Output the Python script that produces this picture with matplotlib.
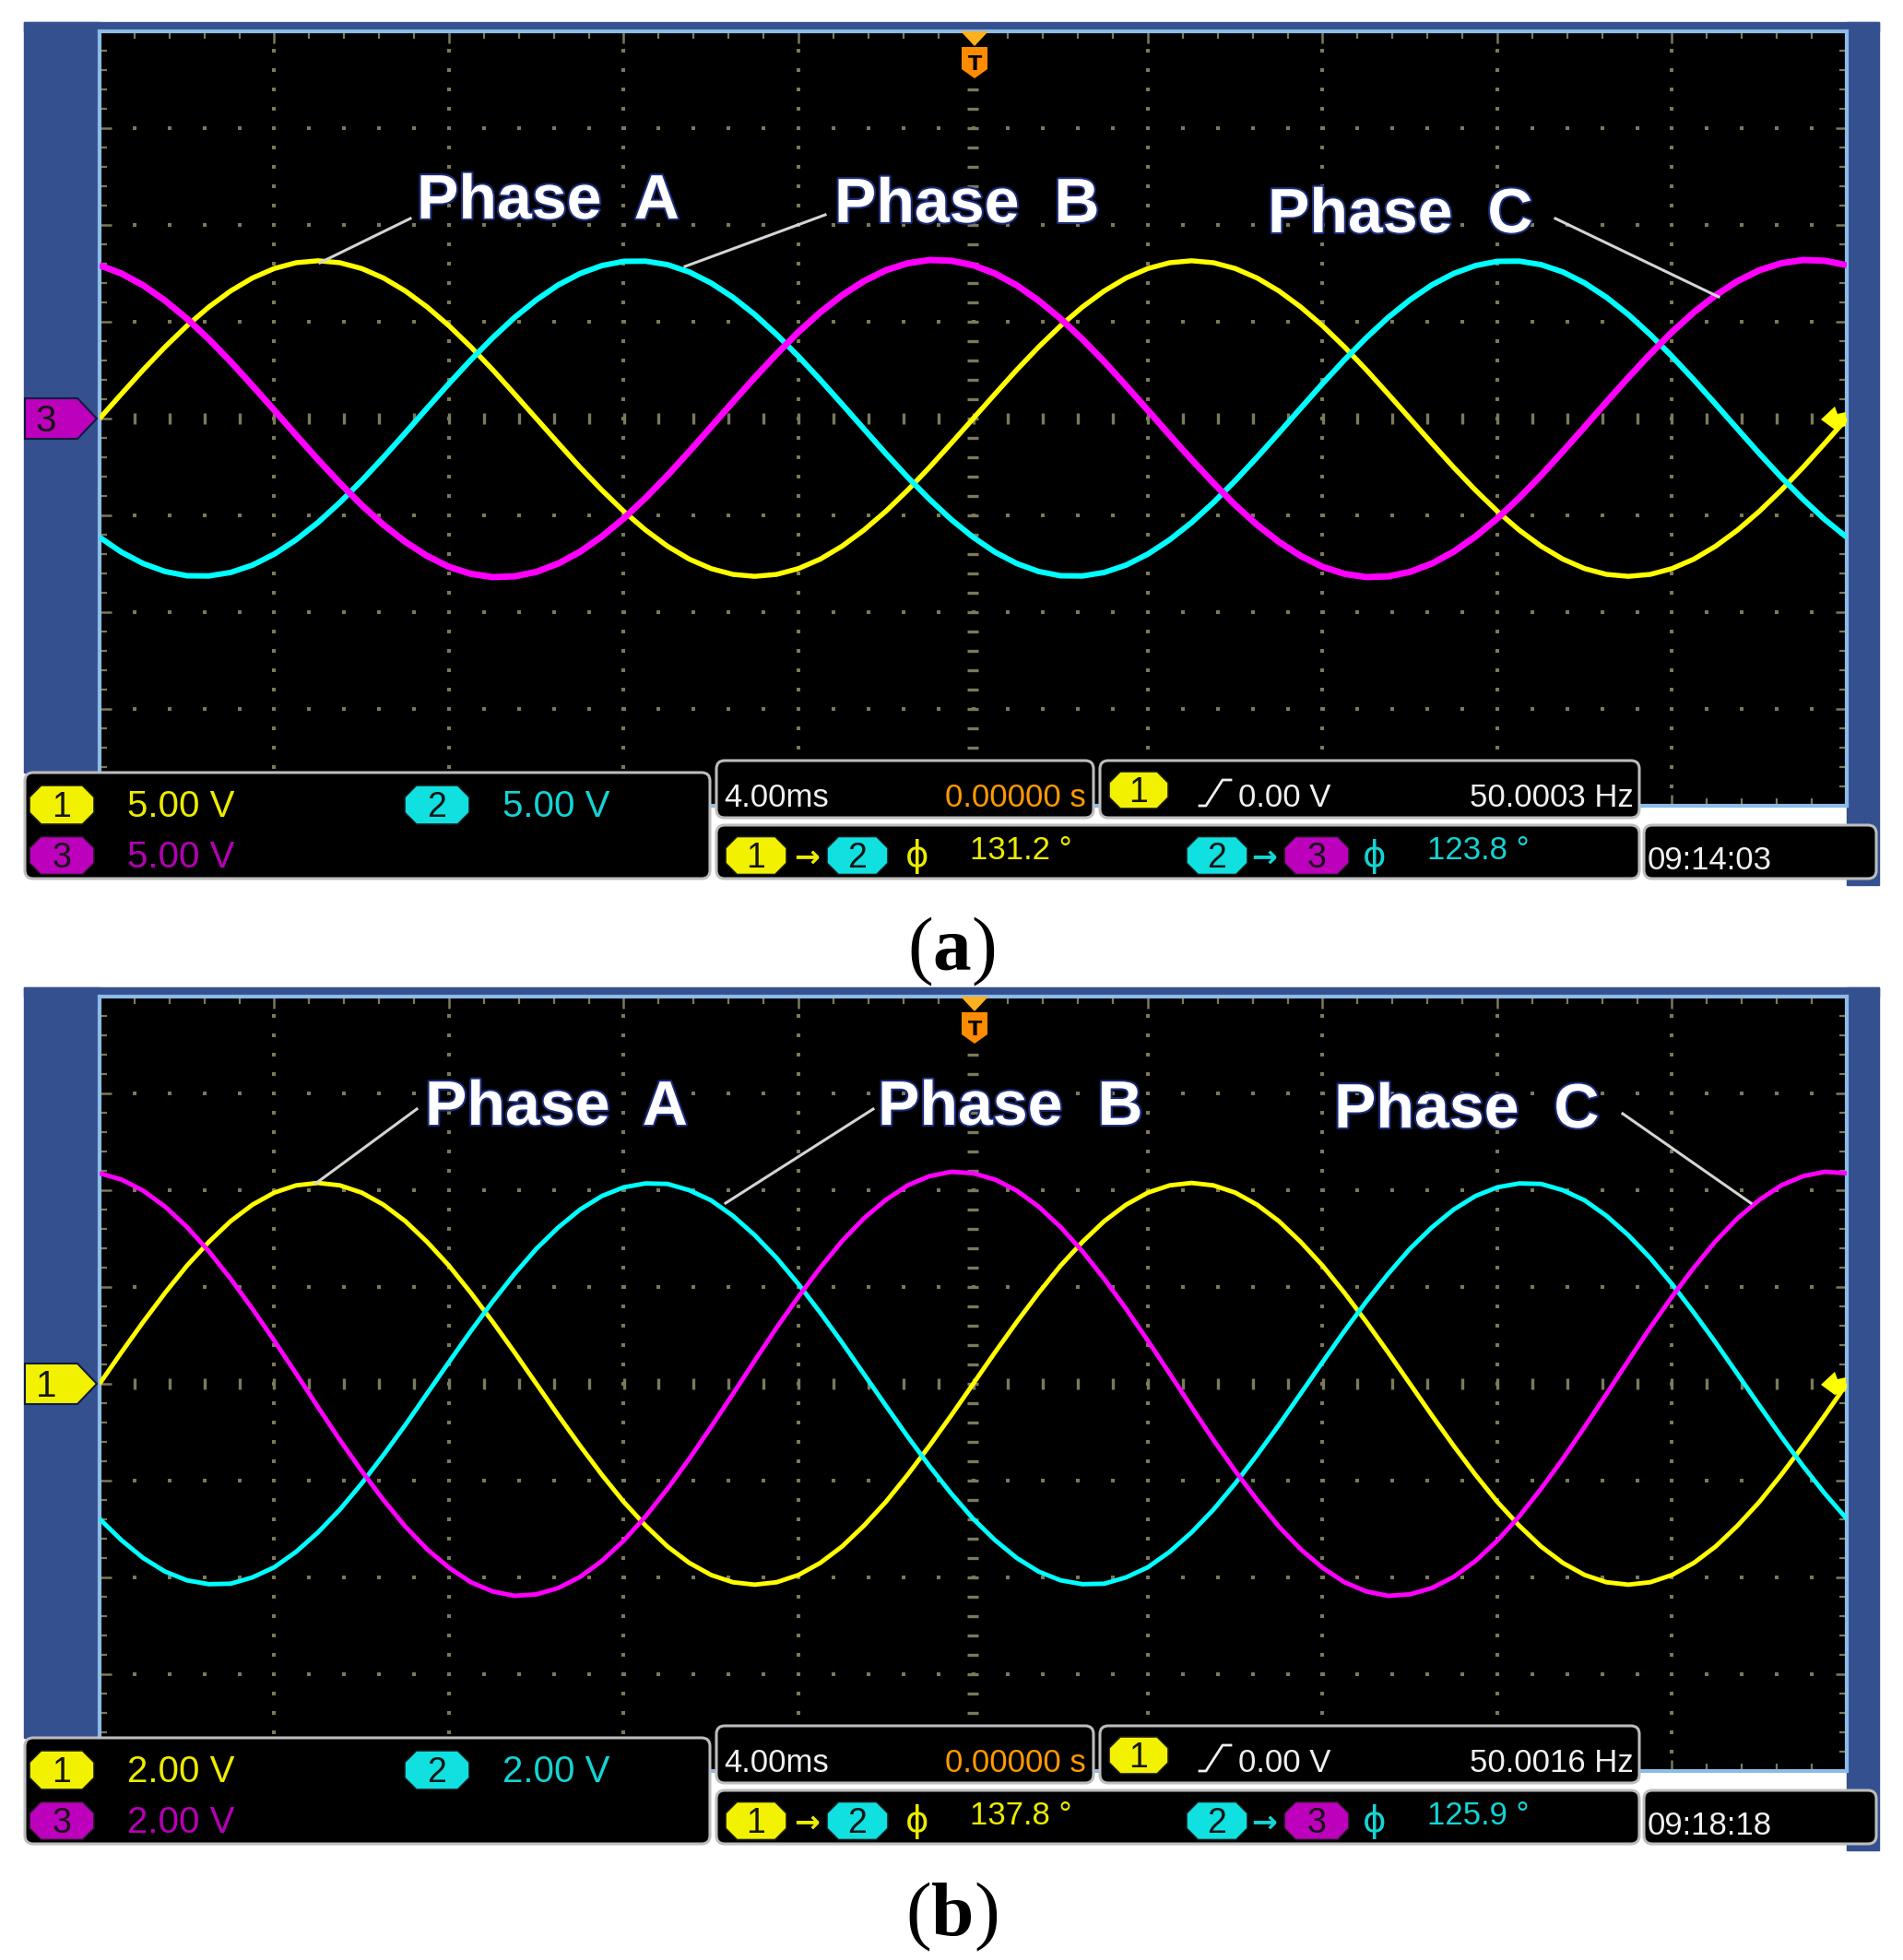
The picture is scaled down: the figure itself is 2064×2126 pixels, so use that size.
import numpy as np
import matplotlib
matplotlib.use("Agg")
import matplotlib.pyplot as plt
import matplotlib.patheffects as pe
from matplotlib.patches import Polygon, Rectangle, FancyBboxPatch

W, H = 2064, 2126
DY = 1047  # vertical offset of panel (b) in pixels

# ---- values ----
time_ms = np.arange(-20, 20.01, 0.5)  # 4 ms/div, 10 div, trigger in the middle

# panel (a), 5 V/div, one reading every 0.5 ms (volts)
a_ch1 = [0.0, 1.27, 2.52, 3.70, 4.79, 5.76, 6.59, 7.26, 7.75, 8.05, 8.15, 8.05, 7.75, 7.26, 6.59, 5.76,
         4.79, 3.70, 2.52, 1.27, 0.0, -1.27, -2.52, -3.70, -4.79, -5.76, -6.59, -7.26, -7.75, -8.05,
         -8.15, -8.05, -7.75, -7.26, -6.59, -5.76, -4.79, -3.70, -2.52, -1.27,
         0.0, 1.27, 2.52, 3.70, 4.79, 5.76, 6.59, 7.26, 7.75, 8.05, 8.15, 8.05, 7.75, 7.26, 6.59, 5.76,
         4.79, 3.70, 2.52, 1.27, 0.0, -1.27, -2.52, -3.70, -4.79, -5.76, -6.59, -7.26, -7.75, -8.05,
         -8.15, -8.05, -7.75, -7.26, -6.59, -5.76, -4.79, -3.70, -2.52, -1.27, 0.0]
a_ch2 = [-6.13, -6.90, -7.49, -7.90, -8.12, -8.13, -7.95, -7.57, -7.00, -6.26, -5.37, -4.34, -3.21,
         -2.00, -0.74, 0.54, 1.81, 3.03, 4.17, 5.22, 6.13, 6.90, 7.49, 7.90, 8.12, 8.13, 7.95, 7.57,
         7.00, 6.26, 5.37, 4.34, 3.21, 2.00, 0.74, -0.54, -1.81, -3.03, -4.17, -5.22,
         -6.13, -6.90, -7.49, -7.90, -8.12, -8.13, -7.95, -7.57, -7.00, -6.26, -5.37, -4.34, -3.21,
         -2.00, -0.74, 0.54, 1.81, 3.03, 4.17, 5.22, 6.13, 6.90, 7.49, 7.90, 8.12, 8.13, 7.95, 7.57,
         7.00, 6.26, 5.37, 4.34, 3.21, 2.00, 0.74, -0.54, -1.81, -3.03, -4.17, -5.22, -6.13]
a_ch3 = [7.92, 7.49, 6.88, 6.09, 5.16, 4.10, 2.94, 1.70, 0.43, -0.86, -2.12, -3.33, -4.47, -5.49,
         -6.37, -7.10, -7.66, -8.02, -8.19, -8.15, -7.92, -7.49, -6.88, -6.09, -5.16, -4.10, -2.94,
         -1.70, -0.43, 0.86, 2.12, 3.33, 4.47, 5.49, 6.37, 7.10, 7.66, 8.02, 8.19, 8.15,
         7.92, 7.49, 6.88, 6.09, 5.16, 4.10, 2.94, 1.70, 0.43, -0.86, -2.12, -3.33, -4.47, -5.49,
         -6.37, -7.10, -7.66, -8.02, -8.19, -8.15, -7.92, -7.49, -6.88, -6.09, -5.16, -4.10, -2.94,
         -1.70, -0.43, 0.86, 2.12, 3.33, 4.47, 5.49, 6.37, 7.10, 7.66, 8.02, 8.19, 8.15, 7.92]

# panel (b), 2 V/div
b_ch1 = [0.0, 0.65, 1.28, 1.88, 2.44, 2.93, 3.36, 3.70, 3.95, 4.10, 4.15, 4.10, 3.95, 3.70, 3.36, 2.93,
         2.44, 1.88, 1.28, 0.65, 0.0, -0.65, -1.28, -1.88, -2.44, -2.93, -3.36, -3.70, -3.95, -4.10,
         -4.15, -4.10, -3.95, -3.70, -3.36, -2.93, -2.44, -1.88, -1.28, -0.65,
         0.0, 0.65, 1.28, 1.88, 2.44, 2.93, 3.36, 3.70, 3.95, 4.10, 4.15, 4.10, 3.95, 3.70, 3.36, 2.93,
         2.44, 1.88, 1.28, 0.65, 0.0, -0.65, -1.28, -1.88, -2.44, -2.93, -3.36, -3.70, -3.95, -4.10,
         -4.15, -4.10, -3.95, -3.70, -3.36, -2.93, -2.44, -1.88, -1.28, -0.65, 0.0]
b_ch2 = [-2.79, -3.23, -3.60, -3.88, -4.06, -4.14, -4.13, -4.00, -3.79, -3.47, -3.07, -2.60, -2.06,
         -1.47, -0.85, -0.20, 0.45, 1.09, 1.70, 2.27, 2.79, 3.23, 3.60, 3.88, 4.06, 4.14, 4.13, 4.00,
         3.79, 3.47, 3.07, 2.60, 2.06, 1.47, 0.85, 0.20, -0.45, -1.09, -1.70, -2.27,
         -2.79, -3.23, -3.60, -3.88, -4.06, -4.14, -4.13, -4.00, -3.79, -3.47, -3.07, -2.60, -2.06,
         -1.47, -0.85, -0.20, 0.45, 1.09, 1.70, 2.27, 2.79, 3.23, 3.60, 3.88, 4.06, 4.14, 4.13, 4.00,
         3.79, 3.47, 3.07, 2.60, 2.06, 1.47, 0.85, 0.20, -0.45, -1.09, -1.70, -2.27, -2.79]
b_ch3 = [4.35, 4.22, 3.99, 3.66, 3.24, 2.74, 2.17, 1.55, 0.89, 0.21, -0.48, -1.16, -1.80, -2.40, -2.95,
         -3.42, -3.80, -4.10, -4.29, -4.38, -4.35, -4.22, -3.99, -3.66, -3.24, -2.74, -2.17, -1.55,
         -0.89, -0.21, 0.48, 1.16, 1.80, 2.40, 2.95, 3.42, 3.80, 4.10, 4.29, 4.38,
         4.35, 4.22, 3.99, 3.66, 3.24, 2.74, 2.17, 1.55, 0.89, 0.21, -0.48, -1.16, -1.80, -2.40, -2.95,
         -3.42, -3.80, -4.10, -4.29, -4.38, -4.35, -4.22, -3.99, -3.66, -3.24, -2.74, -2.17, -1.55,
         -0.89, -0.21, 0.48, 1.16, 1.80, 2.40, 2.95, 3.42, 3.80, 4.10, 4.29, 4.38, 4.35]

volts_per_div = [5.0, 2.0]
vdiv_text = ["5.00 V", "2.00 V"]
freq_text = ["50.0003 Hz", "50.0016 Hz"]
phase12_text = ["131.2 °", "137.8 °"]
phase23_text = ["123.8 °", "125.9 °"]
clock_text = ["09:14:03", "09:18:18"]
ref_marker = ["3", "1"]
captions = ["a", "b"]
phase_names = ["Phase  A", "Phase  B", "Phase  C"]

# ---- styling ----
FONT = ["Liberation Sans", "DejaVu Sans"]
plt.rcParams["mathtext.fontset"] = "custom"
plt.rcParams["mathtext.bf"] = "Liberation Serif:bold"
plt.rcParams["mathtext.rm"] = "Liberation Serif"

BLUE = "#35508e"
EDGE = "#8cbbe8"
GRID = "#7a7a5c"
TRACE = ["#ffff00", "#00ffff", "#ff00ff"]
YEL, CYA, MAG = "#ecec00", "#14d4d4", "#b400b4"
BADGE = {"1": "#f2f200", "2": "#10e0e0", "3": "#bc00bc"}

fig = plt.figure(figsize=(W / 100, H / 100), dpi=100)
fig.patch.set_facecolor("white")
bg = fig.add_axes([0, 0, 1, 1], zorder=0)
ov = fig.add_axes([0, 0, 1, 1], zorder=5)
for a in (bg, ov):
    a.set_xlim(0, W)
    a.set_ylim(H, 0)
    a.axis("off")


def badge(x, y, label, w=70, h=42):
    c = h * 0.3
    pts = [(x - w / 2 + c, y - h / 2), (x + w / 2 - c, y - h / 2), (x + w / 2, y - h / 2 + c),
           (x + w / 2, y + h / 2 - c), (x + w / 2 - c, y + h / 2), (x - w / 2 + c, y + h / 2),
           (x - w / 2, y + h / 2 - c), (x - w / 2, y - h / 2 + c)]
    ov.add_patch(Polygon(pts, closed=True, fc=BADGE[label], ec="#1a1a1a", lw=1.2, zorder=3))
    ov.text(x, y + 13, label, ha="center", va="baseline", color="#151515",
            fontsize=27, family=FONT, zorder=4)


def box(x0, y0, x1, y1):
    ov.add_patch(FancyBboxPatch((x0, y0), x1 - x0, y1 - y0, boxstyle="round,pad=0,rounding_size=9",
                                fc="black", ec="#bdbdbd", lw=2.2, zorder=2))


def scope(dy, traces, vpd, widths):
    ax = fig.add_axes([108 / W, 1 - (874 + dy) / H, 1895 / W, 840 / H], zorder=2)
    ax.set_facecolor("black")
    ax.set_xlim(-20, 20)
    ax.set_ylim(-4, 4)
    for s in ax.spines.values():
        s.set_color(EDGE)
        s.set_linewidth(3)
    ax.set_xticks(np.arange(-20, 21, 4))
    ax.set_yticks(np.arange(-4, 5, 1))
    minor_x = np.arange(-20, 20.01, 0.8)
    minor_y = np.arange(-4, 4.01, 0.2)
    ax.set_xticks(minor_x, minor=True)
    ax.set_yticks(minor_y, minor=True)
    ax.tick_params(which="both", direction="in", top=True, right=True,
                   labelbottom=False, labelleft=False, color=GRID)
    ax.tick_params(which="major", length=9, width=1.8)
    ax.tick_params(which="minor", length=6, width=1.6)
    for gx in np.arange(-16, 17, 4):
        if gx != 0:
            ax.plot(np.full_like(minor_y, gx), minor_y, ls="none", marker="s", ms=2.3, mew=0, color=GRID)
    for gy in np.arange(-3, 4, 1):
        if gy != 0:
            ax.plot(minor_x, np.full_like(minor_x, gy), ls="none", marker="s", ms=2.3, mew=0, color=GRID)
    ax.plot(np.zeros_like(minor_y), minor_y, ls="none", marker="_", ms=9, mew=2.4, color=GRID)
    ax.plot(minor_x, np.zeros_like(minor_x), ls="none", marker="|", ms=9, mew=2.4, color=GRID)
    for vals, col, lw in zip(traces, TRACE, widths):
        ax.plot(time_ms, np.asarray(vals) / vpd, color=col, lw=lw, solid_joinstyle="round",
                solid_capstyle="butt", zorder=3)
    return ax


label_pos = [
    [(452, 237), (905, 241), (1375, 252)],
    [(461, 1220 - DY), (952, 1220 - DY), (1447, 1223 - DY)],
]
leaders = [
    [((445, 237), (347, 285)), ((895, 233), (743, 289)), ((1687, 237), (1864, 322))],
    [((452, 1203 - DY), (342, 1284 - DY)), ((947, 1203 - DY), (787, 1305 - DY)),
     ((1760, 1208 - DY), (1899, 1305 - DY))],
]
trace_sets = [(a_ch1, a_ch2, a_ch3), (b_ch1, b_ch2, b_ch3)]
trace_widths = [(3.9, 4.3, 5.0), (3.5, 3.5, 3.5)]

for p in range(2):
    dy = p * DY
    # blue bezel
    bg.add_patch(Rectangle((26, 24 + dy), 82, 814, color=BLUE))
    bg.add_patch(Rectangle((26, 24 + dy), 2012, 10, color=BLUE))
    bg.add_patch(Rectangle((2003, 24 + dy), 35, 936, color=BLUE))

    scope(dy, trace_sets[p], volts_per_div[p], trace_widths[p])

    # reference level marker on the left
    mk = ref_marker[p]
    ov.add_patch(Polygon([(27, 432 + dy), (84, 432 + dy), (105, 454 + dy), (84, 476 + dy), (27, 476 + dy)],
                         closed=True, fc=BADGE[mk], ec="#101a40", lw=1.5, zorder=3))
    ov.text(50, 468 + dy, mk, ha="center", va="baseline", color="#151515", fontsize=29,
            family=FONT, zorder=4)

    # trigger position marker (top) and trigger level marker (right)
    ov.add_patch(Polygon([(1042, 34 + dy), (1072, 34 + dy), (1057, 50 + dy)], closed=True,
                         fc="#ffb020", ec="none", zorder=3))
    ov.add_patch(Polygon([(1043, 51 + dy), (1071, 51 + dy), (1071, 75 + dy), (1057, 85 + dy), (1043, 75 + dy)],
                         closed=True, fc="#ff8c00", ec="none", zorder=3))
    ov.text(1057, 76 + dy, "T", ha="center", va="baseline", color="black", fontsize=16,
            fontweight="bold", zorder=4)
    ov.add_patch(Polygon([(1975, 455 + dy), (1990, 441 + dy), (1993, 449 + dy), (2002, 447 + dy),
                          (2002, 462 + dy), (1990, 466 + dy)], closed=True, fc="#ffff00", ec="none", zorder=3))

    # phase annotations
    for name, (lx, ly), ((x0, y0), (x1, y1)) in zip(phase_names, label_pos[p], leaders[p]):
        ov.text(lx, ly + dy, name, ha="left", va="baseline", color="white", fontsize=49,
                fontweight="bold", family=FONT, zorder=6,
                path_effects=[pe.withStroke(linewidth=3, foreground="#1c2c7a")])
        ov.plot([x0, x1], [y0 + dy, y1 + dy], color="#d4d4d4", lw=2.2, zorder=6)

    # status bar
    box(27, 838 + dy, 770, 953 + dy)
    box(777, 825 + dy, 1186, 887 + dy)
    box(1193, 825 + dy, 1778, 887 + dy)
    box(777, 895 + dy, 1778, 953 + dy)
    box(1783, 895 + dy, 2035, 953 + dy)

    sfont = dict(va="baseline", family=FONT, zorder=4)
    badge(67, 873 + dy, "1")
    ov.text(138, 886 + dy, vdiv_text[p], color=YEL, fontsize=29, **sfont)
    badge(474, 873 + dy, "2")
    ov.text(545, 886 + dy, vdiv_text[p], color=CYA, fontsize=29, **sfont)
    badge(67, 928 + dy, "3", h=41)
    ov.text(138, 941 + dy, vdiv_text[p], color=MAG, fontsize=29, **sfont)

    ov.text(785, 875 + dy, "4.00ms", color="#f0f0f0", fontsize=25, ha="left", **sfont)
    ov.text(1178, 875 + dy, "0.00000 s", color="#ff9a00", fontsize=25, ha="right", **sfont)

    badge(1235, 857 + dy, "1", w=64, h=40)
    ov.plot([1301, 1308, 1326, 1335], [874 + dy, 874 + dy, 846 + dy, 846 + dy], color="#f0f0f0", lw=2,
            zorder=4)
    ov.text(1343, 875 + dy, "0.00 V", color="#f0f0f0", fontsize=25, ha="left", **sfont)
    ov.text(1772, 875 + dy, freq_text[p], color="#f0f0f0", fontsize=25, ha="right", **sfont)

    badge(820, 928 + dy, "1", w=66, h=41)
    ov.text(875, 940 + dy, "→", color=YEL, fontsize=24, fontweight="bold", ha="center", va="baseline",
            family="DejaVu Sans", zorder=4)
    badge(930, 928 + dy, "2", w=66, h=41)
    ov.text(995, 940 + dy, "ϕ", color=YEL, fontsize=28, ha="center", va="baseline", family="DejaVu Sans",
            zorder=4)
    ov.text(1052, 932 + dy, phase12_text[p], color=YEL, fontsize=25, ha="left", **sfont)
    badge(1320, 928 + dy, "2", w=66, h=41)
    ov.text(1371, 940 + dy, "→", color=CYA, fontsize=24, fontweight="bold", ha="center", va="baseline",
            family="DejaVu Sans", zorder=4)
    badge(1428, 928 + dy, "3", w=70, h=41)
    ov.text(1491, 940 + dy, "ϕ", color=CYA, fontsize=28, ha="center", va="baseline", family="DejaVu Sans",
            zorder=4)
    ov.text(1548, 932 + dy, phase23_text[p], color=CYA, fontsize=25, ha="left", **sfont)

    ov.text(1787, 943 + dy, clock_text[p], color="#f0f0f0", fontsize=25, ha="left", **sfont)

    # caption
    ov.text(1032, 1052 + dy, "($\\mathbf{%s}$)" % captions[p], ha="center", va="baseline",
            fontsize=60, family="Liberation Serif", color="black")

fig.savefig("out.png", dpi=100, facecolor="white")
